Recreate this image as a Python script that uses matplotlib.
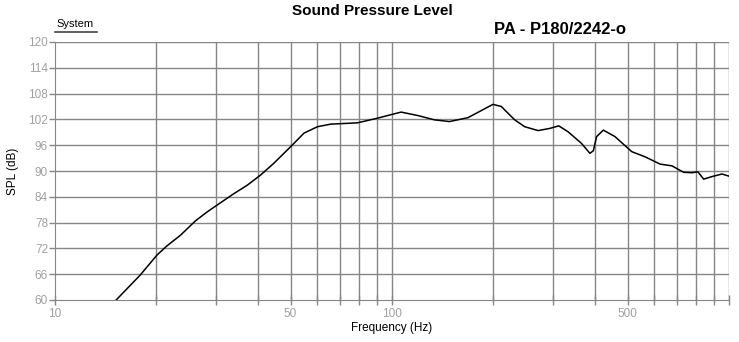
import numpy as np
import matplotlib
matplotlib.use("Agg")
import matplotlib.pyplot as plt
from matplotlib.ticker import FixedLocator, NullFormatter

# response (Hz, dB SPL)
freq = [15.1, 17.9, 20.1, 21.5, 23.6, 26.1, 28.3, 30.3, 33.9, 37.2, 40.8, 44.6,
        50.1, 54.8, 60.1, 65.8, 79.0, 90.7, 106.4, 119.3, 133.6, 148.1, 168.0, 199.4,
        211, 231.2, 247.6, 271.4, 293.8, 312.5, 333.3, 365.2, 386.6, 395.7, 404.7, 423.8,
        458.8, 514.5, 563.6, 624.5, 676.8, 733.4, 776.2, 808.7, 841, 890, 953, 1000]
spl = [59.8, 65.8, 70.5, 72.6, 75.1, 78.4, 80.5, 82.1, 84.7, 86.7, 89.1, 91.8,
       95.7, 98.8, 100.3, 100.9, 101.2, 102.3, 103.7, 102.9, 101.9, 101.5, 102.4, 105.5,
       105.0, 101.9, 100.3, 99.4, 99.9, 100.5, 99.1, 96.4, 94.1, 94.7, 98.0, 99.5,
       98.0, 94.5, 93.3, 91.6, 91.2, 89.7, 89.6, 89.8, 88.1, 88.7, 89.3, 88.8]

yticks = [60, 66, 72, 78, 84, 90, 96, 102, 108, 114, 120]
xlabels = [10, 50, 100, 500]
xgrid = [20, 30, 40, 50, 60, 70, 80, 90, 100, 200, 300, 400, 500, 600, 700, 800, 900, 1000]

plt.rcParams["font.family"] = ["Liberation Sans", "DejaVu Sans"]

fig = plt.figure(figsize=(7.39, 3.42), dpi=100)
ax = fig.add_axes([55 / 739, 1 - 300 / 342, (729 - 55) / 739, 258 / 342])

ax.set_xscale("log")
ax.set_xlim(10, 1000)
ax.set_ylim(60, 120)

grid_c = "#868686"
for f in xgrid:
    ax.axvline(f, color=grid_c, lw=1, zorder=1)
for v in yticks[1:]:
    ax.axhline(v, color=grid_c, lw=1, zorder=1)

ax.plot(freq, spl, color="black", lw=1.1, zorder=3)

ax.xaxis.set_major_locator(FixedLocator(xlabels))
ax.xaxis.set_minor_locator(FixedLocator([f for f in xgrid if f not in xlabels]))
ax.xaxis.set_minor_formatter(NullFormatter())
ax.set_xticklabels([str(v) for v in xlabels])
ax.set_yticks(yticks)

ax.tick_params(axis="x", which="both", direction="inout", length=7, width=1,
               color=grid_c, labelcolor="#a0a0a0", labelsize=8.5, pad=2)
ax.tick_params(axis="y", direction="out", length=4, width=1,
               color=grid_c, labelcolor="#a0a0a0", labelsize=8.5, pad=1)

for side in ["top", "right"]:
    ax.spines[side].set_visible(False)
for side in ["left", "bottom"]:
    ax.spines[side].set_color(grid_c)

ax.set_xlabel("Frequency (Hz)", fontsize=8.5, labelpad=2)
ax.set_ylabel("SPL (dB)", fontsize=8.5, labelpad=7)

fig.text(372 / 739, 1 - 11 / 342, "Sound Pressure Level", ha="center", va="center",
         fontsize=11, fontweight="bold")
fig.text(560 / 739, 1 - 29 / 342, "PA - P180/2242-o", ha="center", va="center",
         fontsize=12, fontweight="bold")
fig.text(75 / 739, 1 - 24 / 342, "System", ha="center", va="center", fontsize=8)
fig.add_artist(plt.Line2D([55 / 739, 97 / 739], [1 - 32 / 342, 1 - 32 / 342],
                          color="#444444", lw=1.2))

fig.savefig("out.png", dpi=100, facecolor="white")
